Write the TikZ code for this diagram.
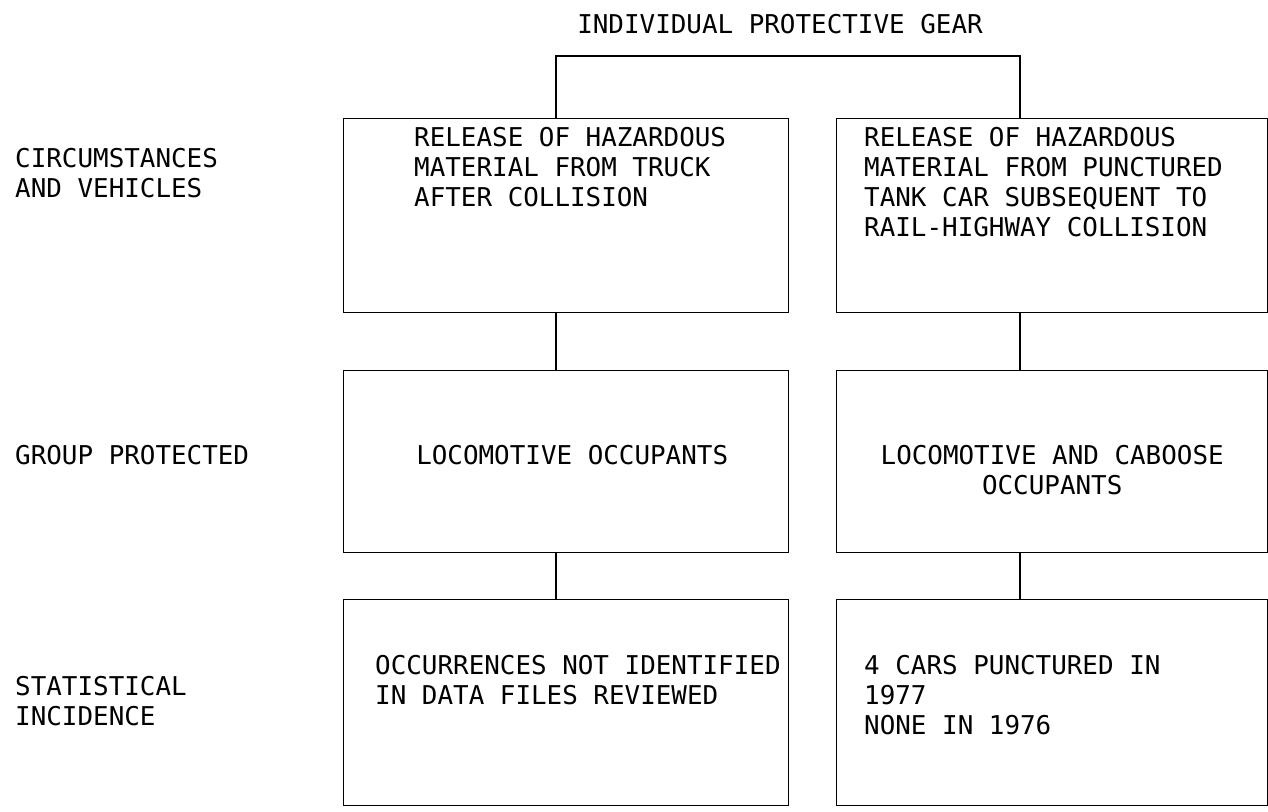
\documentclass[tikz,border=0pt]{standalone}
\usepackage{fontspec}
\newfontfamily\gearfont{DejaVu Sans Mono}
\usepackage{tikz}
\usetikzlibrary{positioning}
\tikzstyle{stagebox} = [rectangle, draw=black, line width=1.4pt, inner sep=0pt, anchor=north west]
\tikzstyle{boxtext} = [inner sep=0pt, align=left, font=\gearfont\fontsize{25.9}{30}\selectfont]
\tikzstyle{rowlabel} = [boxtext, anchor=north west]
\tikzstyle{link} = [line width=1.4pt]

\begin{document}
\begin{tikzpicture}[x=1pt, y=-1pt]
    \useasboundingbox (0,0) rectangle (1268,811);

    \node (title) [boxtext, anchor=base] at (780,33) {INDIVIDUAL PROTECTIVE GEAR};

    % the two columns of boxes
    \node (truck) [stagebox, minimum width=445pt, minimum height=194pt] at (343,118) {};
    \node (tank) [stagebox, minimum width=431pt, minimum height=194pt] at (836,118) {};
    \node (loco) [stagebox, minimum width=445pt, minimum height=182pt] at (343,370) {};
    \node (caboose) [stagebox, minimum width=431pt, minimum height=182pt] at (836,370) {};
    \node (nodata) [stagebox, minimum width=445pt, minimum height=206pt] at (343,599) {};
    \node (punct) [stagebox, minimum width=431pt, minimum height=206pt] at (836,599) {};

    \node (trucktext) [boxtext, below right=9pt and 71pt of truck.north west] {RELEASE OF HAZARDOUS\\MATERIAL FROM TRUCK\\AFTER COLLISION};
    \node (tanktext) [boxtext, below right=9pt and 28pt of tank.north west] {RELEASE OF HAZARDOUS\\MATERIAL FROM PUNCTURED\\TANK CAR SUBSEQUENT TO\\RAIL-HIGHWAY COLLISION};
    \node (locotext) [boxtext, align=center, anchor=north] at ([xshift=6pt, yshift=-75pt]loco.north) {LOCOMOTIVE OCCUPANTS};
    \node (cabtext) [boxtext, align=center, anchor=north] at ([yshift=-75pt]caboose.north) {LOCOMOTIVE AND CABOOSE\\OCCUPANTS};
    \node (nodatatext) [boxtext, below right=56pt and 32pt of nodata.north west] {OCCURRENCES NOT IDENTIFIED\\IN DATA FILES REVIEWED};
    \node (puncttext) [boxtext, below right=56pt and 28pt of punct.north west] {4 CARS PUNCTURED IN\\1977\\NONE IN 1976};

    % row headings
    \node (circ) [rowlabel] at (15,148) {CIRCUMSTANCES\\AND VEHICLES};
    \node (group) [rowlabel] at (15,445) {GROUP PROTECTED};
    \node (stat) [rowlabel] at (15,676) {STATISTICAL\\INCIDENCE};

    % bracket and links
    \coordinate (lknee) at (556,56);
    \coordinate (rknee) at (1020,56);
    \draw [link] (truck.north -| lknee) -- (lknee) -- (rknee) -- (tank.north -| rknee);
    \draw [link] (truck.south -| lknee) -- (loco.north -| lknee);
    \draw [link] (loco.south -| lknee) -- (nodata.north -| lknee);
    \draw [link] (tank.south -| rknee) -- (caboose.north -| rknee);
    \draw [link] (caboose.south -| rknee) -- (punct.north -| rknee);

\end{tikzpicture}
\end{document}
